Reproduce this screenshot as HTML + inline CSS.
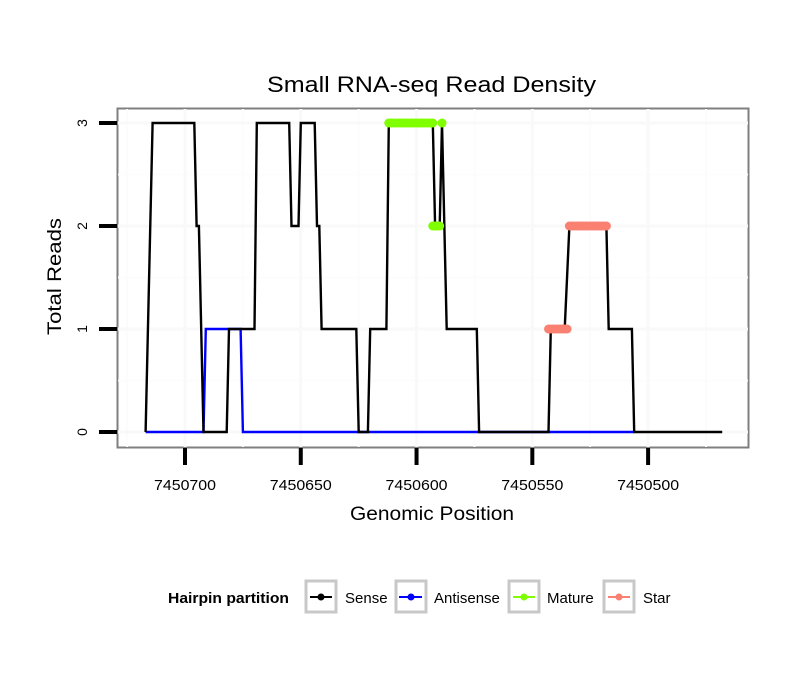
<!DOCTYPE html>
<html><head><meta charset="utf-8"><style>body{margin:0;background:#fff}svg{display:block;font-family:"Liberation Sans",sans-serif}</style></head>
<body>
<svg width="810" height="690" viewBox="0 0 810 690" xmlns="http://www.w3.org/2000/svg">
<rect width="810" height="690" fill="#fff"/>
<text x="267" y="92" font-size="22" textLength="329" lengthAdjust="spacingAndGlyphs">Small RNA-seq Read Density</text>
<rect x="117.5" y="108.5" width="631" height="339" fill="#fff" stroke="#7f7f7f" stroke-width="2"/>
<g id="grid"></g>
<g id="series"></g>
<g id="axes"></g>
<text x="350" y="520" font-size="19" textLength="164" lengthAdjust="spacingAndGlyphs">Genomic Position</text>
<text transform="translate(61,335) rotate(-90)" font-size="19" textLength="117" lengthAdjust="spacingAndGlyphs">Total Reads</text>
<g>
<text x="168" y="603" font-size="15" font-weight="bold" textLength="121" lengthAdjust="spacingAndGlyphs">Hairpin partition</text>
<g><rect x="306" y="581" width="30" height="31" fill="#fff" stroke="#c8c8c8" stroke-width="3"/><line x1="310" y1="597" x2="332" y2="597" stroke="#000" stroke-width="2"/><circle cx="321" cy="597" r="3.5" fill="#000"/><text x="345" y="603" font-size="15">Sense</text></g>
<g><rect x="396" y="581" width="30" height="31" fill="#fff" stroke="#c8c8c8" stroke-width="3"/><line x1="399" y1="597" x2="422" y2="597" stroke="#00f" stroke-width="2"/><circle cx="411" cy="597" r="3.5" fill="#00f"/><text x="434" y="603" font-size="15">Antisense</text></g>
<g><rect x="509" y="581" width="30" height="31" fill="#fff" stroke="#c8c8c8" stroke-width="3"/><line x1="513" y1="597" x2="535" y2="597" stroke="#7fff00" stroke-width="2"/><circle cx="524" cy="597" r="3.5" fill="#7fff00"/><text x="547" y="603" font-size="15">Mature</text></g>
<g><rect x="604" y="581" width="30" height="31" fill="#fff" stroke="#c8c8c8" stroke-width="3"/><line x1="608" y1="597" x2="630" y2="597" stroke="#fa8072" stroke-width="2"/><circle cx="619" cy="597" r="3.5" fill="#fa8072"/><text x="643" y="603" font-size="15">Star</text></g>
</g>
</svg>
<script>
const xTicks=[7450700,7450650,7450600,7450550,7450500];
const xTickLabels=["7450700","7450650","7450600","7450550","7450500"];
const yTicks=[0,1,2,3];
const senseX=[7450717,7450714,7450696,7450695,7450694,7450692,7450682,7450681,7450670,7450669,7450655,7450654,7450651,7450650,7450644,7450643,7450642,7450641,7450626,7450625,7450621,7450620,7450613,7450612,7450593,7450592,7450590,7450589,7450587,7450574,7450573,7450543,7450542,7450536,7450534,7450518,7450517,7450507,7450506,7450468];
const senseY=[0,3,3,2,2,0,0,1,1,3,3,2,2,3,3,2,2,1,1,0,0,1,1,3,3,2,2,3,1,1,0,0,1,1,2,2,1,1,0,0];
const antiX=[7450717,7450692,7450691,7450676,7450675,7450506];
const antiY=[0,0,1,1,0,0];
const matureX=[7450612,7450611,7450610,7450609,7450608,7450607,7450606,7450605,7450604,7450603,7450602,7450601,7450600,7450599,7450598,7450597,7450596,7450595,7450594,7450593,7450593,7450592,7450591,7450590,7450589];
const matureY=[3,3,3,3,3,3,3,3,3,3,3,3,3,3,3,3,3,3,3,3,2,2,2,2,3];
const starX=[7450543,7450542,7450541,7450540,7450539,7450538,7450537,7450536,7450535,7450534,7450533,7450532,7450531,7450530,7450529,7450528,7450527,7450526,7450525,7450524,7450523,7450522,7450521,7450520,7450519,7450518];
const starY=[1,1,1,1,1,1,1,1,1,2,2,2,2,2,2,2,2,2,2,2,2,2,2,2,2,2];

const NS="http://www.w3.org/2000/svg";
const xs=v=>185+(7450700-v)*2.3155;
const ys=v=>432-v*103;
function mk(tag,attrs,parent){const e=document.createElementNS(NS,tag);for(const k in attrs)e.setAttribute(k,attrs[k]);parent.appendChild(e);return e;}
const grid=document.getElementById('grid'),series=document.getElementById('series'),axes=document.getElementById('axes');
const minorX=[];for(let i=0;i<xTicks.length+1;i++)minorX.push(7450725-50*i);
minorX.forEach(v=>{const px=xs(v);if(px>118&&px<748){const l=mk('line',{x1:px,x2:px,y1:109,y2:447,stroke:'#fcfcfc','stroke-width':2},grid);}});
[0.5,1.5,2.5].forEach(v=>{const l=mk('line',{x1:118,x2:748,y1:ys(v),y2:ys(v),stroke:'#fcfcfc','stroke-width':2},grid);});
xTicks.forEach(v=>{const l=mk('line',{x1:xs(v),x2:xs(v),y1:109,y2:447,stroke:'#f9f9f9','stroke-width':3},grid);});
yTicks.forEach(v=>{const l=mk('line',{x1:118,x2:748,y1:ys(v),y2:ys(v),stroke:'#f9f9f9','stroke-width':3},grid);});
xTicks.forEach((v,i)=>{const t=mk('line',{x1:xs(v),x2:xs(v),y1:448,y2:465,stroke:'#000','stroke-width':4},axes);
const tx=mk('text',{x:xs(v),y:490,'font-size':15,'text-anchor':'middle',textLength:62,lengthAdjust:'spacingAndGlyphs'},axes);tx.textContent=xTickLabels[i];});
yTicks.forEach(v=>{const t=mk('line',{x1:99,x2:117,y1:ys(v),y2:ys(v),stroke:'#000','stroke-width':4},axes);
const tx=mk('text',{transform:`translate(87,${ys(v)}) rotate(-90)`,'font-size':14,'text-anchor':'middle'},axes);tx.textContent=String(v);});
function line(X,Y,color,name){const d=X.map((x,i)=>(i?'L':'M')+xs(x).toFixed(1)+','+ys(Y[i]).toFixed(1)).join('');const p=mk('path',{d:d,fill:'none',stroke:color,'stroke-width':2.4,'stroke-linejoin':'miter'},series);}
line(antiX,antiY,'#0000ff','antisense-line');
line(senseX,senseY,'#000000','sense-line');
function pts(X,Y,color,name){X.forEach((x,i)=>{const c=mk('circle',{cx:xs(x),cy:ys(Y[i]),r:4.5,fill:color},series);});}
pts(matureX,matureY,'#7fff00','mature-point');
pts(starX,starY,'#fa8072','star-point');
</script>
</body></html>
